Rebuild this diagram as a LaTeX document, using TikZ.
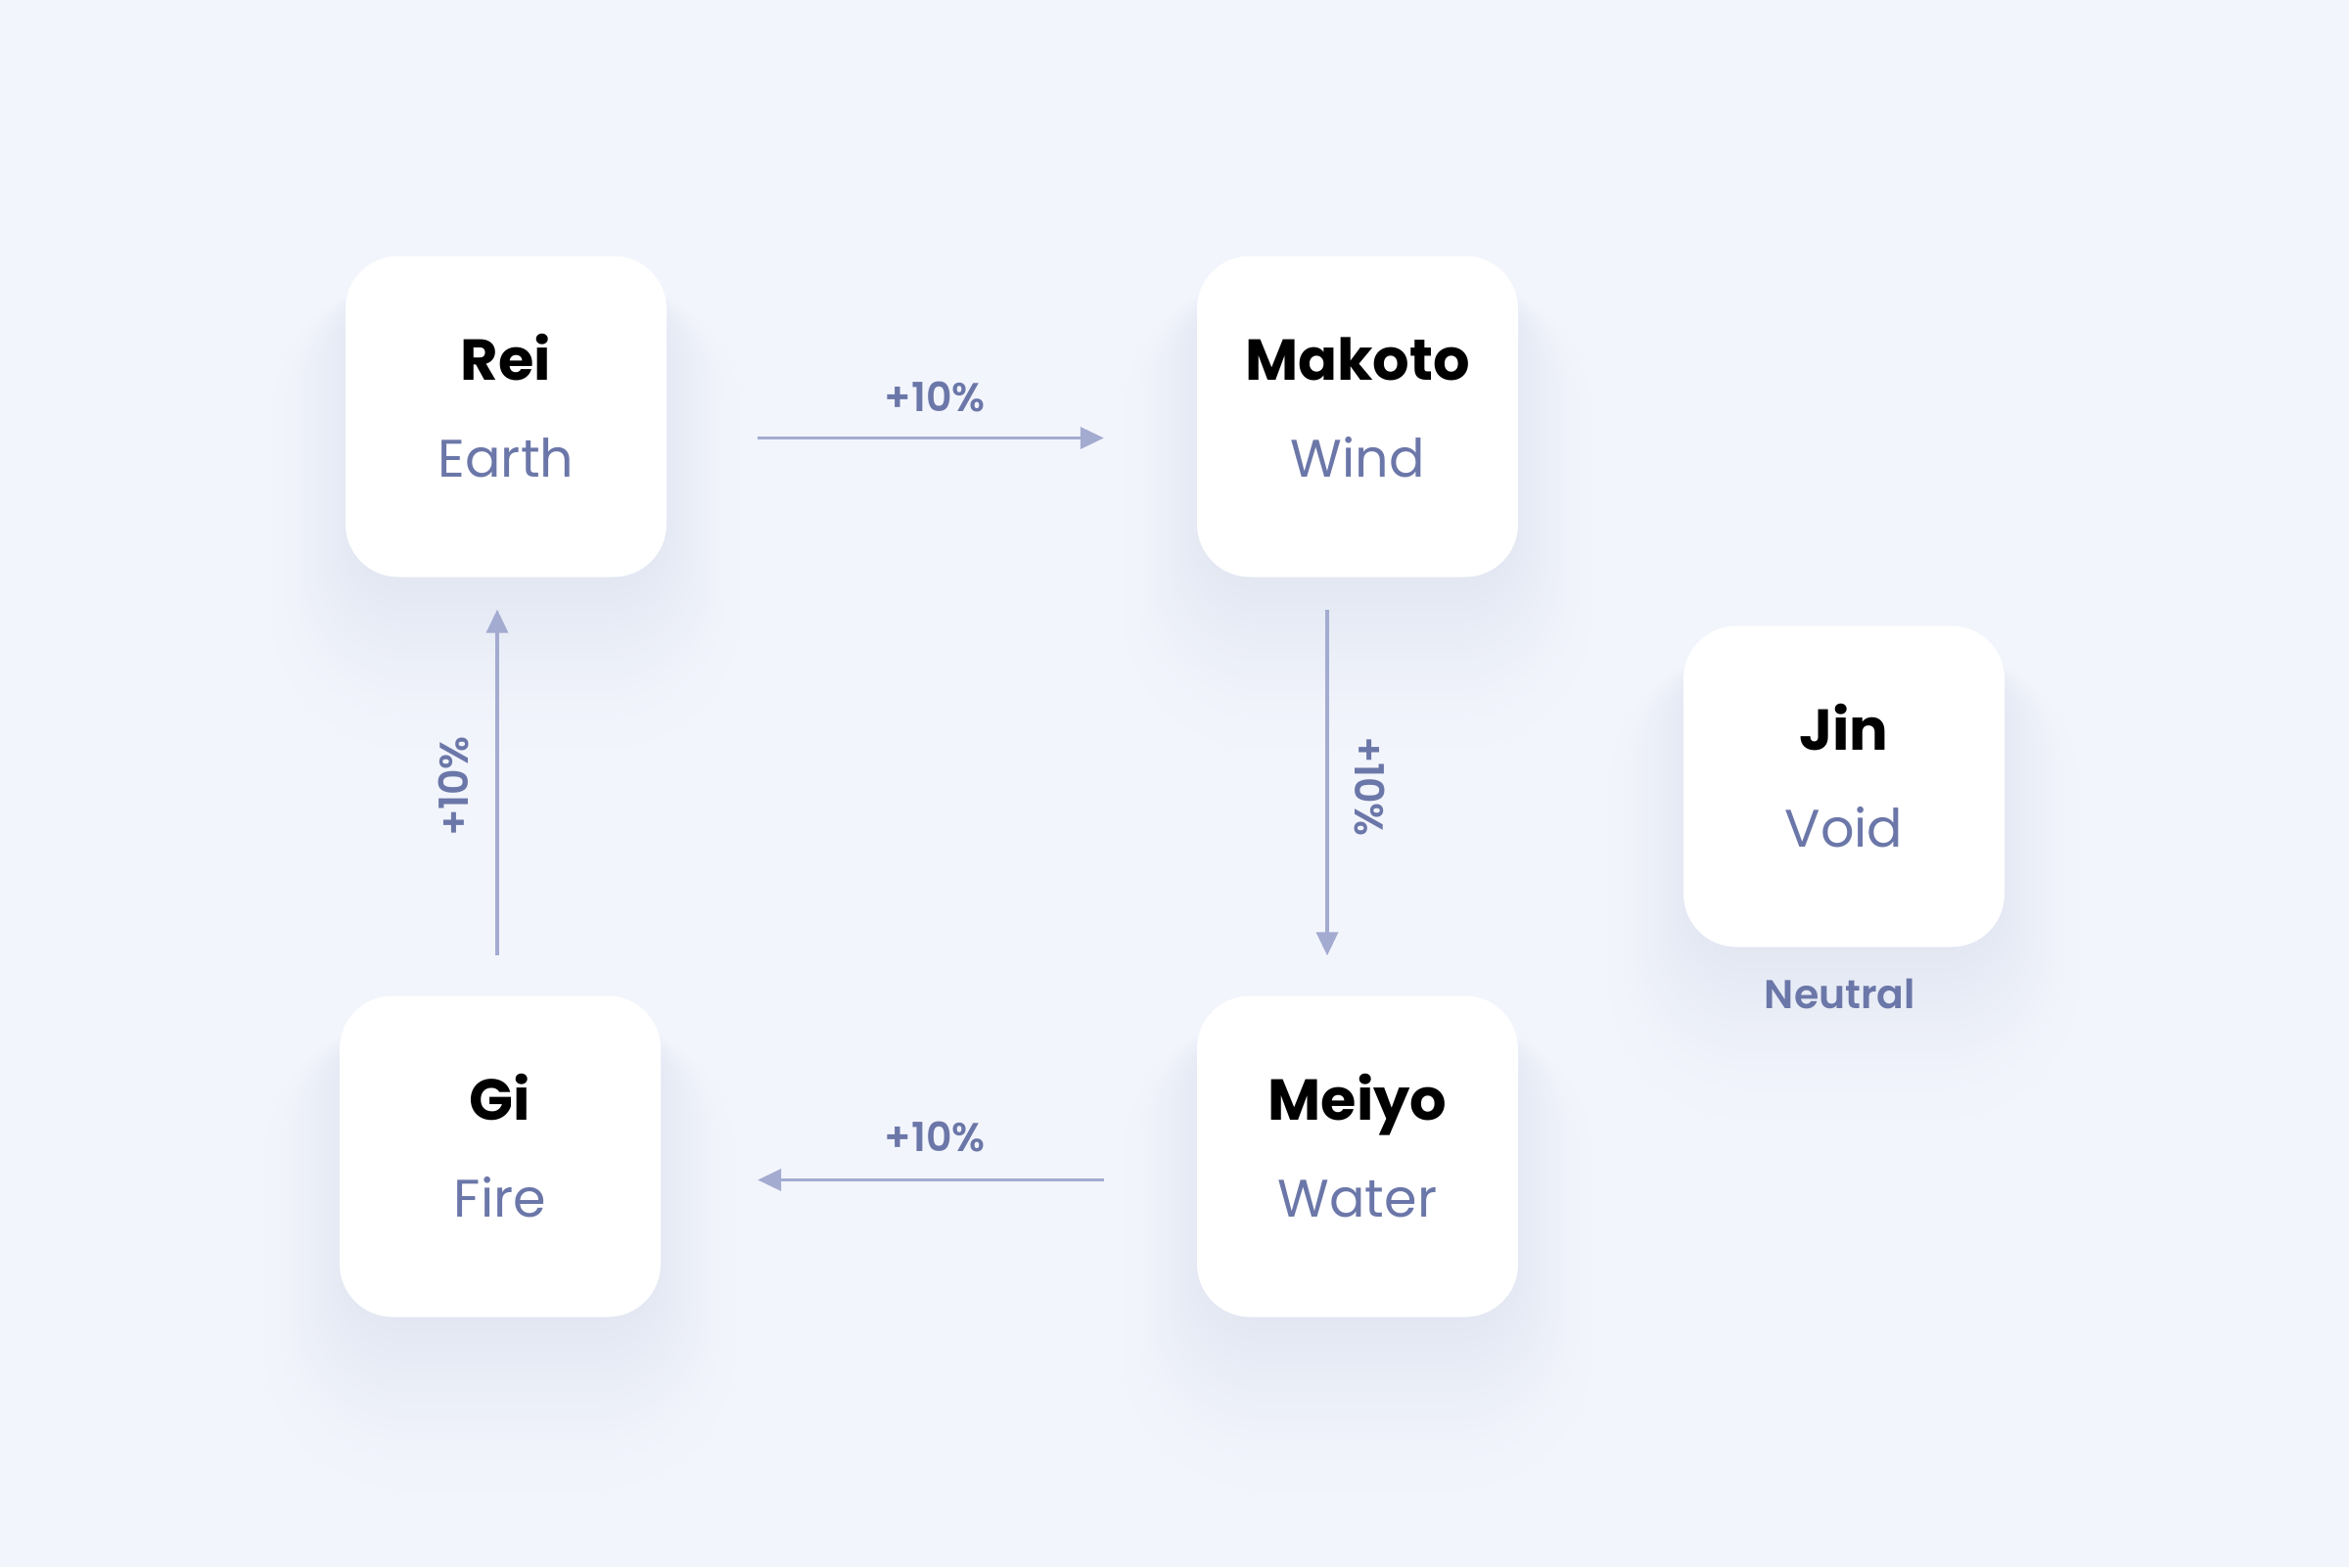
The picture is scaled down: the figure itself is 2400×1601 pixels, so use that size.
\documentclass[tikz,border=0pt]{standalone}
\usepackage{fontspec}
\setmainfont{Poppins}
\newfontfamily\popM{Poppins SemiBold}
\usetikzlibrary{calc,arrows.meta}
\definecolor{bg}{HTML}{F3F5FC}
\definecolor{elem}{HTML}{6B77A8}
\definecolor{arrowc}{HTML}{A3ABD0}
\definecolor{shad}{HTML}{E2E7F2}
\tikzset{
  card/.style={fill=white, rounded corners=54pt, minimum width=328pt, minimum height=328pt, inner sep=0pt},
  nametext/.style={font=\fontsize{59}{60}\selectfont\bfseries, text=black, inner sep=0pt, anchor=base},
  elemtext/.style={font=\fontsize{54}{56}\selectfont, text=elem, inner sep=0pt, anchor=base},
  pct/.style={font=\popM\fontsize{41}{44}\selectfont, text=elem, inner sep=0pt},
  conn/.style={draw=arrowc, line width=3.5pt, -{Triangle[length=24pt,width=22pt]}},
}
\newcommand\cardshadow[1]{%
  \foreach \r in {20,19,...,1}{%
    \pgfmathsetmacro\rc{54+\r*5}%
    \pgfmathsetmacro\ex{150+\r*5}%
    \pgfmathsetmacro\dy{10+\r*5}%
    \pgfmathsetmacro\t{100*(1-(\r-1)/20)^1.6}%
    \fill[shad!\t!bg, rounded corners=\rc pt] ($(#1)+(-\ex,-\ex+\dy)$) rectangle ($(#1)+(\ex,\ex+\dy)$);
  }}
\begin{document}
\begin{tikzpicture}[x=1pt,y=-1pt]
\useasboundingbox (0,0) rectangle (2400,1601);
\fill[bg] (0,0) rectangle (2400,1601);
\coordinate (cRei) at (517,425.5);
\coordinate (cMak) at (1387,425.5);
\coordinate (cJin) at (1884,803.5);
\coordinate (cGi) at (511,1181.5);
\coordinate (cMei) at (1387,1181.5);
\cardshadow{cRei}
\cardshadow{cMak}
\cardshadow{cJin}
\cardshadow{cGi}
\cardshadow{cMei}
\node[card] (Rei) at (cRei) {};
\node[card] (Makoto) at (cMak) {};
\node[card] (Jin) at (cJin) {};
\node[card] (Gi) at (cGi) {};
\node[card] (Meiyo) at (cMei) {};
\node[nametext] (nRei) at ($(Rei)+(0,-37)$) {Rei};
\node[elemtext] (eRei) at ($(Rei)+(0,62)$) {Earth};
\node[nametext] (nMak) at ($(Makoto)+(0,-37)$) {Makoto};
\node[elemtext] (eMak) at ($(Makoto)+(0,62)$) {Wind};
\node[nametext] (nJin) at ($(Jin)+(0,-37)$) {Jin};
\node[elemtext] (eJin) at ($(Jin)+(0,62)$) {Void};
\node[nametext] (nGi) at ($(Gi)+(0,-37)$) {Gi};
\node[elemtext] (eGi) at ($(Gi)+(0,62)$) {Fire};
\node[nametext] (nMei) at ($(Meiyo)+(0,-37)$) {Meiyo};
\node[elemtext] (eMei) at ($(Meiyo)+(0,62)$) {Water};
\node[pct] (neutral) at ($(Jin)+(-4,212)$) {Neutral};
\draw[conn] ($(Rei.east)+(93,22)$) -- ($(Makoto.west)+(-95,22)$);
\node[pct] (l1) at ($(Rei.east)!0.5!(Makoto.west)+(3,-20)$) {+10\%};
\draw[conn] ($(Makoto.south)+(-31,33)$) -- ($(Meiyo.north)+(-31,-41)$);
\node[pct, rotate=-90] (l2) at ($(Makoto)+(12,378)$) {+10\%};
\draw[conn] ($(Meiyo.west)+(-95,24)$) -- ($(Gi.east)+(99,24)$);
\node[pct] (l3) at ($(Meiyo.west)!0.5!(Gi.east)+(6,-20)$) {+10\%};
\draw[conn] ($(Gi.north)+(-3,-41)$) -- ($(Rei.south)+(-9,33)$);
\node[pct, rotate=90] (l4) at ($(Gi)+(-47,-378)$) {+10\%};
\end{tikzpicture}
\end{document}
